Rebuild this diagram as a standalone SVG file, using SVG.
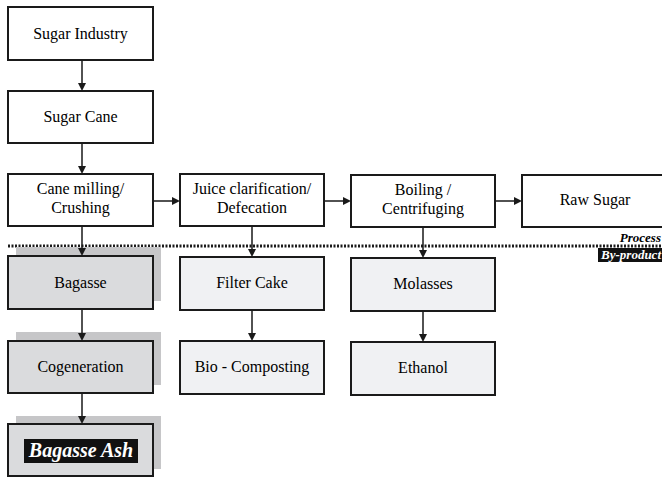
<svg xmlns="http://www.w3.org/2000/svg" width="662" height="477" viewBox="0 0 662 477">
<style>
.box{fill:#fff;stroke:#1a1a1a;stroke-width:2}
.bg{fill:#dadbdd;stroke:#1a1a1a;stroke-width:2}
.lt{fill:#f0f1f3;stroke:#1a1a1a;stroke-width:2}
.sh{fill:#c6c6c8}
.c{stroke:#1a1a1a;stroke-width:1.5;fill:none}
.h{fill:#1a1a1a}
</style>
<rect width="662" height="477" fill="#fff"/>
<g id="n-industry"><rect class="box" x="8" y="7" width="145" height="53"/><text x="80.5" y="39" font-family="'Liberation Serif', serif" font-size="16" text-anchor="middle">Sugar Industry</text></g>
<g id="n-cane"><rect class="box" x="8" y="91" width="145" height="52"/><text x="80.5" y="122" font-family="'Liberation Serif', serif" font-size="16" text-anchor="middle">Sugar Cane</text></g>
<g id="n-milling"><rect class="box" x="8" y="174" width="145" height="52"/><text x="80.5" y="194" font-family="'Liberation Serif', serif" font-size="16" text-anchor="middle">Cane milling/</text><text x="80.5" y="213" font-family="'Liberation Serif', serif" font-size="16" text-anchor="middle">Crushing</text></g>
<g id="n-juice"><rect class="box" x="180" y="174" width="144" height="52"/><text x="252" y="194" font-family="'Liberation Serif', serif" font-size="16" text-anchor="middle">Juice clarification/</text><text x="252" y="213" font-family="'Liberation Serif', serif" font-size="16" text-anchor="middle">Defecation</text></g>
<g id="n-boiling"><rect class="box" x="351" y="175" width="144" height="52"/><text x="423" y="195" font-family="'Liberation Serif', serif" font-size="16" text-anchor="middle">Boiling /</text><text x="423" y="214" font-family="'Liberation Serif', serif" font-size="16" text-anchor="middle">Centrifuging</text></g>
<g id="n-raw"><rect class="box" x="522" y="175" width="145" height="52"/><text x="595" y="205" font-family="'Liberation Serif', serif" font-size="16" text-anchor="middle">Raw Sugar</text></g>
<g id="divider">
<line x1="8" y1="246" x2="662" y2="246" stroke="#1a1a1a" stroke-width="3" stroke-dasharray="2,1.5"/>
<text x="661" y="242" font-family="'Liberation Serif', serif" text-anchor="end" font-weight="bold" font-style="italic" font-size="13">Process</text>
<rect x="598" y="248" width="64" height="14" fill="#111"/>
<text x="661" y="259" font-family="'Liberation Serif', serif" text-anchor="end" font-weight="bold" font-style="italic" font-size="13" fill="#fff">By-product</text>
</g>
<g id="n-bagasse"><rect class="sh" x="16" y="247" width="145" height="54"/><rect class="bg" x="8" y="256" width="145" height="53"/><text x="80.5" y="288" font-family="'Liberation Serif', serif" font-size="16" text-anchor="middle">Bagasse</text></g>
<g id="n-cogen"><rect class="sh" x="16" y="332" width="145" height="53"/><rect class="bg" x="8" y="341" width="145" height="52"/><text x="80.5" y="372" font-family="'Liberation Serif', serif" font-size="16" text-anchor="middle">Cogeneration</text></g>
<g id="n-ash"><rect class="sh" x="16" y="416" width="145" height="53"/><rect class="bg" x="8" y="424" width="145" height="52"/><rect x="24" y="439" width="114" height="24" fill="#111"/><text x="81" y="457" font-family="'Liberation Serif', serif" text-anchor="middle" font-weight="bold" font-style="italic" font-size="20" fill="#fff">Bagasse Ash</text></g>
<g id="n-filter"><rect class="lt" x="180" y="257" width="144" height="53"/><text x="252" y="288" font-family="'Liberation Serif', serif" font-size="16" text-anchor="middle">Filter Cake</text></g>
<g id="n-bio"><rect class="lt" x="180" y="341" width="144" height="53"/><text x="252" y="372" font-family="'Liberation Serif', serif" font-size="16" text-anchor="middle">Bio - Composting</text></g>
<g id="n-molasses"><rect class="lt" x="351" y="258" width="144" height="53"/><text x="423" y="289" font-family="'Liberation Serif', serif" font-size="16" text-anchor="middle">Molasses</text></g>
<g id="n-ethanol"><rect class="lt" x="351" y="342" width="144" height="53"/><text x="423" y="373" font-family="'Liberation Serif', serif" font-size="16" text-anchor="middle">Ethanol</text></g>
<g id="connectors">
<path class="c" d="M82,60V83M82,143V166M153,201H172M324,201H343M495,201H514M82,226V248M252,226V249M423,227V250M82,309V333M82,393V416M252,310V333M423,311V334"/>
<path class="h" d="M78,83H86L82,91ZM78,166H86L82,174ZM172,197V205L180,201ZM343,197V205L351,201ZM514,197V205L522,201ZM78,248H86L82,256ZM248,249H256L252,257ZM419,250H427L423,258ZM78,333H86L82,341ZM78,416H86L82,424ZM248,333H256L252,341ZM419,334H427L423,342Z"/>
</g>
</svg>
